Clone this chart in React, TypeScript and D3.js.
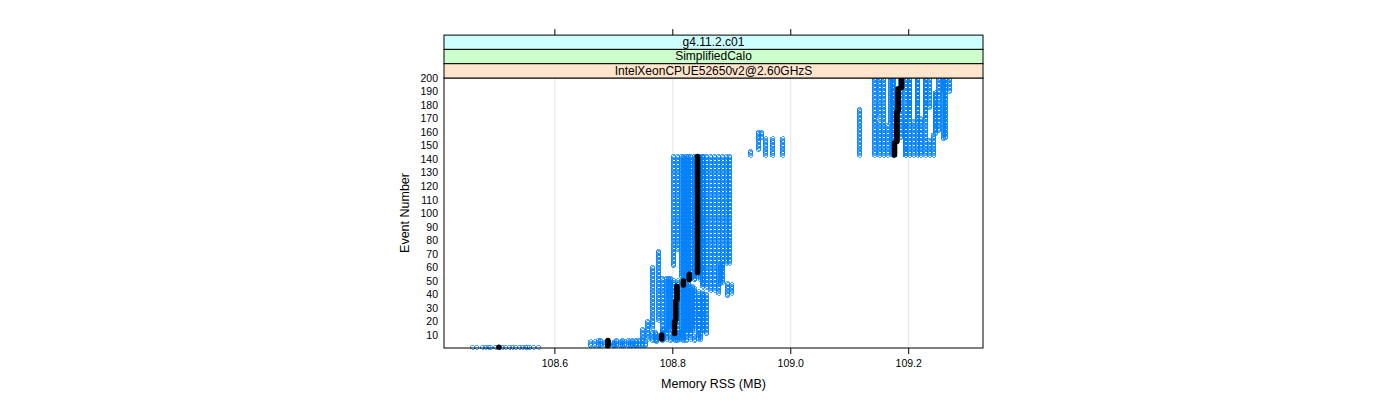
import * as d3 from 'd3';

// Each run: list of [fromEvent, toEvent, memoryMB] steps
type Step = [number, number, number];

const blueRuns: Step[][] = [
  [[1, 1, 108.466], [2, 5, 108.659], [6, 14, 108.747], [15, 60, 108.764], [61, 142, 108.8], [143, 170, 109.142], [171, 200, 109.149]],
  [[1, 1, 108.481], [2, 6, 108.673], [7, 20, 108.756], [21, 72, 108.775], [73, 142, 108.807], [143, 168, 109.149], [169, 200, 109.142]],
  [[1, 1, 108.498], [2, 5, 108.685], [6, 12, 108.764], [13, 52, 108.781], [53, 142, 108.814], [143, 200, 109.156]],
  [[1, 1, 108.515], [2, 4, 108.698], [5, 10, 108.771], [11, 52, 108.788], [53, 142, 108.822], [143, 165, 109.163], [166, 200, 109.169]],
  [[1, 1, 108.532], [2, 5, 108.71], [6, 13, 108.781], [14, 52, 108.795], [53, 142, 108.829], [143, 200, 109.172]],
  [[1, 1, 108.549], [2, 6, 108.724], [7, 12, 108.788], [13, 50, 108.807], [51, 142, 108.836], [143, 200, 109.174]],
  [[1, 1, 108.571], [2, 5, 108.736], [6, 11, 108.795], [12, 50, 108.814], [51, 142, 108.836], [143, 200, 109.193]],
  [[1, 1, 108.476], [2, 6, 108.747], [7, 12, 108.8], [13, 50, 108.822], [51, 142, 108.849], [143, 170, 109.193], [171, 200, 109.2]],
  [[1, 1, 108.49], [2, 5, 108.752], [6, 10, 108.807], [11, 45, 108.829], [46, 58, 108.849], [59, 142, 108.856], [143, 200, 109.2]],
  [[1, 1, 108.505], [2, 6, 108.676], [7, 14, 108.814], [15, 44, 108.836], [45, 58, 108.856], [59, 142, 108.863], [143, 168, 109.207], [169, 200, 109.214]],
  [[1, 1, 108.522], [2, 5, 108.69], [6, 12, 108.822], [13, 42, 108.842], [43, 58, 108.863], [59, 142, 108.869], [143, 200, 109.214]],
  [[1, 1, 108.539], [2, 6, 108.703], [7, 12, 108.829], [13, 42, 108.849], [43, 58, 108.869], [59, 142, 108.876], [143, 170, 109.22], [171, 200, 109.227]],
  [[1, 1, 108.556], [2, 5, 108.717], [6, 10, 108.836], [11, 40, 108.856], [41, 58, 108.876], [59, 142, 108.883], [143, 200, 109.227]],
  [[1, 1, 108.563], [2, 6, 108.73], [7, 11, 108.842], [12, 38, 108.842], [39, 48, 108.892], [49, 62, 108.883], [63, 142, 108.89], [143, 158, 109.241], [159, 189, 109.244], [190, 200, 109.258]],
  [[1, 1, 108.486], [2, 6, 108.742], [7, 12, 108.846], [13, 40, 108.852], [41, 47, 108.898], [48, 62, 108.88], [63, 142, 108.895], [143, 154, 109.234], [155, 200, 109.258]],
  [[1, 1, 108.51], [2, 5, 108.7], [6, 12, 108.803], [13, 50, 108.818], [51, 142, 108.846], [143, 146, 108.931], [147, 160, 108.944], [161, 189, 109.244], [190, 200, 109.268]],
  [[1, 1, 108.527], [2, 6, 108.713], [7, 12, 108.81], [13, 52, 108.826], [53, 142, 108.84], [143, 155, 108.956], [156, 160, 108.95], [161, 200, 109.25]],
  [[1, 1, 108.544], [2, 5, 108.727], [6, 12, 108.818], [13, 46, 108.833], [47, 142, 108.852], [143, 155, 108.968], [156, 200, 109.262]],
  [[1, 1, 108.552], [2, 6, 108.738], [7, 14, 108.784], [15, 50, 108.8], [51, 142, 108.818], [143, 177, 109.115], [178, 200, 109.234]],
  [[1, 1, 108.46], [2, 5, 108.666], [6, 12, 108.77], [13, 52, 108.792], [53, 142, 108.826], [143, 155, 108.986], [156, 200, 109.186]],
];

const blackRun: Step[] = [
  [1, 1, 108.505], [2, 6, 108.69], [7, 10, 108.781], [11, 20, 108.803], [21, 35, 108.805], [36, 46, 108.807],
  [47, 50, 108.818], [51, 55, 108.828], [56, 142, 108.842], [143, 152, 109.176], [153, 175, 109.18],
  [176, 192, 109.182], [193, 200, 109.188],
];

const xTicks = [108.6, 108.8, 109.0, 109.2];
const yTicks = [10, 20, 30, 40, 50, 60, 70, 80, 90, 100, 110, 120, 130, 140, 150, 160, 170, 180, 190, 200];
const stripLabels = ['g4.11.2.c01', 'SimplifiedCalo', 'IntelXeonCPUE52650v2@2.60GHzS'];
const stripColors = ['#ccffff', '#ccffcc', '#ffe5cc'];

const expand = (steps: Step[]) =>
  steps.flatMap(([a, b, m]) => d3.range(a, b + 1).map(e => ({ event: e, mem: m })));

export default function App() {
  const left = 444;
  const right = 983;
  const top = 78;
  const bottom = 348.5;
  const stripH = 14.3;
  const font = '"Liberation Sans", Arial, Helvetica, sans-serif';

  const x = d3.scaleLinear().domain([108.412, 109.326]).range([left, right]);
  const y = d3.scaleLinear().domain([0, 200]).range([bottom, top]);

  const bluePts = blueRuns.flatMap(expand);
  const blackPts = expand(blackRun);
  const stripTop = top - stripH * 3;

  return (
    <svg width={1400} height={400} style={{ position: 'absolute', left: 0, top: 0 }} fontFamily={font}>
      <rect width={1400} height={400} fill="#fff" />
      {xTicks.map(t => (
        <line key={'g' + t} x1={x(t)} x2={x(t)} y1={top} y2={348} stroke="#e6e6e6" />
      ))}
      <g shapeRendering="crispEdges">
        {bluePts.map((p, i) => (
          <circle
            key={i}
            cx={Math.round(x(p.mem)) + 0.5}
            cy={y(p.event)}
            r={2}
            fill="none"
            stroke="#0080ff"
            strokeWidth={0.7}
          />
        ))}
      </g>
      <g>
        {blackPts.map((p, i) => (
          <circle key={i} cx={x(p.mem)} cy={y(p.event)} r={2.7} fill="#000" />
        ))}
      </g>
      <rect x={left} y={top} width={right - left} height={348 - top} fill="none" stroke="#000" />
      {stripLabels.map((s, i) => (
        <g key={s}>
          <rect x={left} y={stripTop + i * stripH} width={right - left} height={stripH} fill={stripColors[i]} stroke="#000" />
          <text x={(left + right) / 2} y={stripTop + i * stripH + 11} textAnchor="middle" fontSize={12}>
            {s}
          </text>
        </g>
      ))}
      {xTicks.map(t => (
        <g key={'t' + t}>
          <line x1={x(t)} x2={x(t)} y1={stripTop - 6} y2={stripTop} stroke="#000" />
          <line x1={x(t)} x2={x(t)} y1={348} y2={354} stroke="#000" />
          <text x={x(t)} y={367} textAnchor="middle" fontSize={10.5}>
            {d3.format('.1f')(t)}
          </text>
        </g>
      ))}
      {yTicks.map(t => (
        <text key={'y' + t} x={438} y={y(t) + 3.8} textAnchor="end" fontSize={10.5}>
          {t}
        </text>
      ))}
      <text x={(left + right) / 2} y={388} textAnchor="middle" fontSize={12.5}>
        Memory RSS (MB)
      </text>
      <text transform={`translate(409,${(top + 348) / 2}) rotate(-90)`} textAnchor="middle" fontSize={12.5}>
        Event Number
      </text>
    </svg>
  );
}
